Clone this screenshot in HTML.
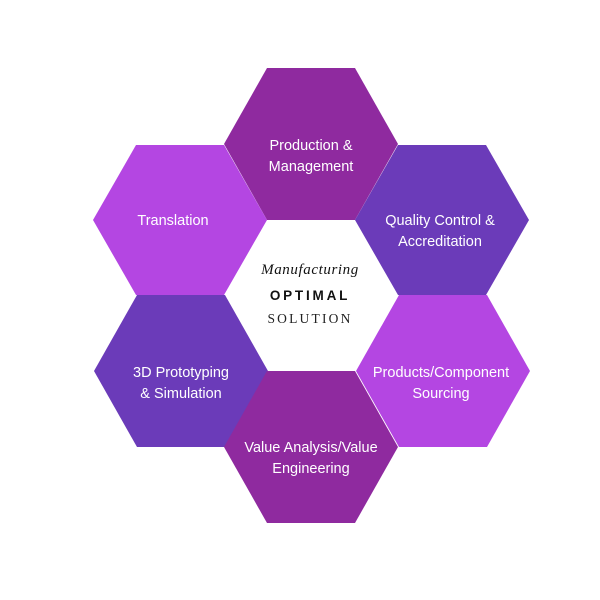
<!DOCTYPE html>
<html><head><style>
html,body{margin:0;padding:0;background:#fff;}
svg{display:block}
</style></head><body>
<svg width="600" height="600" viewBox="0 0 600 600" xmlns="http://www.w3.org/2000/svg">
<g font-family="Liberation Sans, sans-serif" font-size="14.5" fill="#fff" text-anchor="middle">
<polygon points="224,144 267,68 355,68 398,144 355,220 267,220" fill="#8f2a9f"/>
<polygon points="93,220 136,145 224,145 267,220 224,295 136,295" fill="#b446e2"/>
<polygon points="355,220 398,145 486,145 529,220 486,295 398,295" fill="#6b3bb9"/>
<polygon points="94,371 137,295 225,295 268,371 225,447 137,447" fill="#6b3bb9"/>
<polygon points="356,371 399,295 487,295 530,371 487,447 399,447" fill="#b446e2"/>
<polygon points="224,447 267,371 355,371 398,447 355,523 267,523" fill="#8f2a9f"/>
<text x="311" y="150">Production &amp;</text>
<text x="311" y="171">Management</text>
<text x="173" y="225">Translation</text>
<text x="440" y="225">Quality Control &amp;</text>
<text x="440" y="246">Accreditation</text>
<text x="181" y="377">3D Prototyping</text>
<text x="181" y="398">&amp; Simulation</text>
<text x="441" y="377">Products/Component</text>
<text x="441" y="398">Sourcing</text>
<text x="311" y="452">Value Analysis/Value</text>
<text x="311" y="473">Engineering</text>
</g>
<g text-anchor="middle" fill="#111">
<text x="310" y="274" font-family="Liberation Serif, serif" font-style="italic" font-size="15" letter-spacing="0.6">Manufacturing</text>
<text x="310" y="300" font-family="Liberation Sans, sans-serif" font-weight="bold" font-size="13.5" letter-spacing="2.8">OPTIMAL</text>
<text x="310" y="323" font-family="Liberation Serif, serif" font-size="13.5" letter-spacing="2.2" fill="#222">SOLUTION</text>
</g>
</svg>
</body></html>
